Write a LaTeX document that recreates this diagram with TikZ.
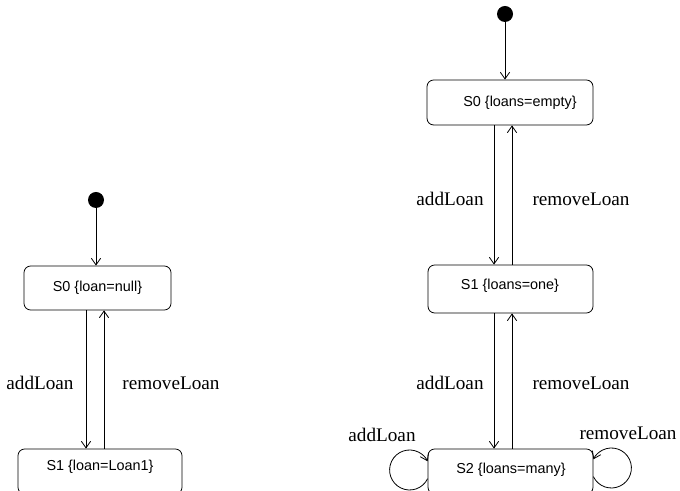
\documentclass[tikz,border=0pt]{standalone}
\usepackage{fontspec}
\usetikzlibrary{arrows.meta}
\newfontfamily\stfontfam{Liberation Sans}
\newfontfamily\lblfontfam{Liberation Serif}
\tikzset{
  x=0.75pt, y=0.75pt,
  statebox/.style={draw, rounded corners=5pt, line width=0.6pt, inner sep=0pt},
  sttext/.style={font=\stfontfam\fontsize{10.8}{13}\selectfont, inner sep=0pt},
  lbl/.style={font=\lblfontfam\fontsize{14.4}{16}\selectfont, inner sep=0pt},
  arr/.style={-{Straight Barb[length=5pt,width=7pt]}, line width=0.6pt},
  initdot/.style={circle, fill=black, minimum size=12pt, inner sep=0pt}
}
\begin{document}
\begin{tikzpicture}
\useasboundingbox (0,0) rectangle (680,491);
\clip (0,0) rectangle (680,491);

% ---------- left diagram ----------
\node[initdot] (L0) at (96,291) {};
\node[statebox, minimum width=110.25pt, minimum height=33pt] (S0L) at (97.5,203) {};
\node[sttext] (S0Lt) at (97.5,203) {S0 \{loan=null\}};
\node[statebox, minimum width=123pt, minimum height=33.75pt] (S1L) at (100,19.5) {};
\node[sttext] (S1Lt) at (100,24) {S1 \{loan=Loan1\}};
\coordinate (dL) at (86,0);
\coordinate (uL) at (104,0);
\draw[arr] (L0) -- (L0 |- S0L.north);
\draw[arr] (S0L.south -| dL) -- (S1L.north -| dL);
\draw[arr] (S1L.north -| uL) -- (S0L.south -| uL);
\node[lbl] (aL) at (40,108) {addLoan};
\node[lbl] (rL) at (171,108) {removeLoan};

% ---------- right diagram ----------
\node[initdot] (R0) at (505,477) {};
\node[statebox, minimum width=124.5pt, minimum height=33.75pt] (S0R) at (510,388.5) {};
\node[sttext] (S0Rt) at (520,388.5) {S0 \{loans=empty\}};
\node[statebox, minimum width=123.75pt, minimum height=36pt] (S1R) at (510.5,202) {};
\node[sttext] (S1Rt) at (510,205) {S1 \{loans=one\}};
\node[statebox, minimum width=123.75pt, minimum height=33.75pt] (S2R) at (510.5,19.5) {};
\node[sttext] (S2Rt) at (511,21) {S2 \{loans=many\}};
\coordinate (dR) at (494,0);
\coordinate (uR) at (512,0);
\draw[arr] (R0) -- (R0 |- S0R.north);
\draw[arr] (S0R.south -| dR) -- (S1R.north -| dR);
\draw[arr] (S1R.north -| uR) -- (S0R.south -| uR);
\draw[arr] (S1R.south -| dR) -- (S2R.north -| dR);
\draw[arr] (S2R.north -| uR) -- (S1R.south -| uR);
\node[lbl] (aR1) at (450,292) {addLoan};
\node[lbl] (rR1) at (581,292) {removeLoan};
\node[lbl] (aR2) at (450,108) {addLoan};
\node[lbl] (rR2) at (581,108) {removeLoan};

% self loops
\draw[arr] (S2R.west |- 0,12.3) arc[start angle=-25.8, end angle=-334.2, radius=20];
\draw[arr] (S2R.east |- 0,14.3) arc[start angle=-154.2, end angle=154.2, radius=20];
\node[lbl] (aR3) at (382,56) {addLoan};
\node[lbl] (rR3) at (628,58) {removeLoan};
\end{tikzpicture}
\end{document}
